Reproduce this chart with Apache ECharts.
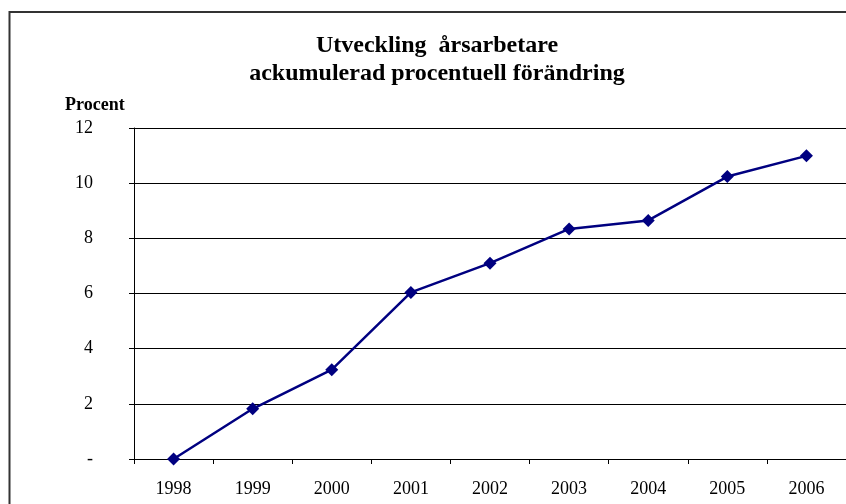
<!DOCTYPE html>
<html>
<head>
<meta charset="utf-8">
<script src="https://cdn.jsdelivr.net/npm/echarts@6/dist/echarts.min.js"></script>
<style>
  html, body { margin: 0; padding: 0; background: #fff; }
  #chart { width: 846px; height: 504px; }
</style>
</head>
<body>
<div id="chart"></div>
<script>
// kategorier (år)
const years = ["1998", "1999", "2000", "2001", "2002", "2003", "2004", "2005", "2006"];
// ackumulerad procentuell förändring
const values = [0, 1.82, 3.24, 6.04, 7.1, 8.34, 8.65, 10.24, 10.99];
const yTicks = [0, 2, 4, 6, 8, 10, 12];

const serif = "'Liberation Serif', 'Times New Roman', serif";

const chart = echarts.init(document.getElementById("chart"));

const option = {
  animation: false,
  backgroundColor: "#fff",
  title: {
    text: "Utveckling  årsarbetare\nackumulerad procentuell förändring",
    left: 432,
    top: 27,
    textAlign: "center",
    textStyle: {
      fontFamily: serif,
      fontWeight: "bold",
      fontSize: 24,
      lineHeight: 28,
      color: "#000",
    },
  },
  graphic: [
    {
      // ramen runt diagrammet
      type: "rect",
      shape: { x: 9.5, y: 12, width: 900, height: 600 },
      style: { fill: "none", stroke: "#333", lineWidth: 2 },
      silent: true,
    },
    {
      type: "text",
      left: 65,
      top: 96,
      style: {
        text: "Procent",
        fontFamily: serif,
        fontWeight: "bold",
        fontSize: 18,
        fill: "#000",
      },
    },
  ],
  grid: {
    left: 134,
    top: 128,
    width: 714,
    height: 331,
  },
  xAxis: {
    type: "category",
    data: years,
    boundaryGap: true,
    axisLine: { lineStyle: { color: "#000", width: 1 } },
    axisTick: { show: true, length: 5, lineStyle: { color: "#000" } },
    axisLabel: {
      fontFamily: serif,
      fontSize: 18,
      color: "#000",
      margin: 21,
    },
  },
  yAxis: {
    type: "value",
    min: yTicks[0],
    max: yTicks[yTicks.length - 1],
    interval: 2,
    axisLine: { show: true, lineStyle: { color: "#000", width: 1 } },
    axisTick: { show: true, length: 5, lineStyle: { color: "#000" } },
    splitLine: { show: true, lineStyle: { color: "#000", width: 1 } },
    axisLabel: {
      fontFamily: serif,
      fontSize: 18,
      color: "#000",
      margin: 41,
      formatter: (v) => (v === 0 ? "-" : String(v)),
    },
  },
  series: [
    {
      name: "Årsarbetare",
      type: "line",
      data: values,
      symbol: "diamond",
      symbolSize: 13,
      lineStyle: { color: "#000080", width: 2.5 },
      itemStyle: { color: "#000080" },
    },
  ],
};

chart.setOption(option);
</script>
</body>
</html>
